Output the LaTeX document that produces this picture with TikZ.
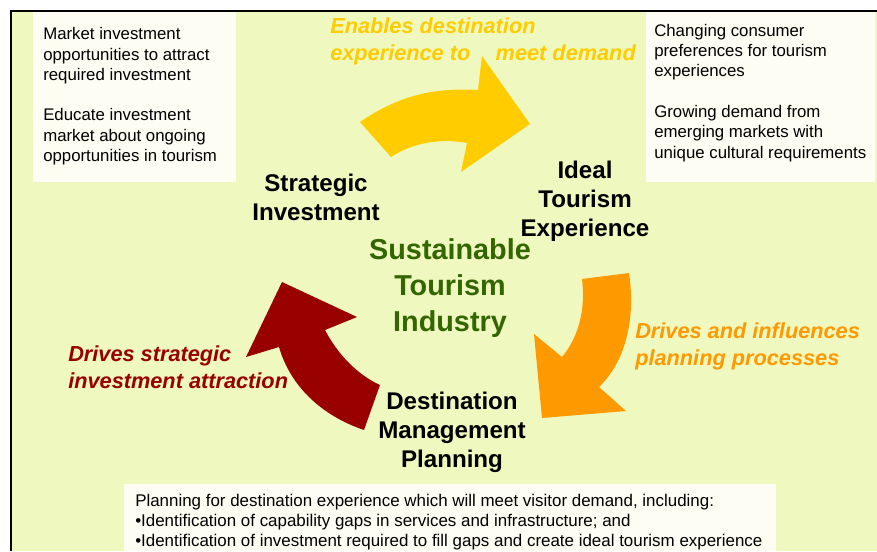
\documentclass[tikz,border=0pt]{standalone}
\usepackage{fontspec}
\setmainfont{Liberation Sans}
\usetikzlibrary{positioning}
\definecolor{bgcol}{RGB}{239,248,190}
\definecolor{notecol}{RGB}{253,253,243}
\definecolor{sunyellow}{RGB}{255,204,0}
\definecolor{deeporange}{RGB}{255,153,0}
\definecolor{darkred}{RGB}{153,0,0}
\definecolor{leafgreen}{RGB}{51,102,0}

\begin{document}
\begin{tikzpicture}[
  x=0.75pt, y=-0.75pt,
  stage/.style={align=center, anchor=base, inner sep=0pt, font=\fontsize{18.1}{21.75}\selectfont\bfseries},
  hub/.style={align=center, anchor=base, inner sep=0pt, text=leafgreen, font=\fontsize{21.6}{27}\selectfont\bfseries},
  flow/.style={align=left, anchor=base west, inner sep=0pt, font=\fontsize{16.3}{20.25}\selectfont\bfseries\itshape},
  notetext/.style={align=left, anchor=base west, inner sep=0pt, font=\fontsize{12.6}{15.2}\selectfont},
  notebox/.style={fill=notecol, draw=none}
]

\useasboundingbox (0,0) rectangle (877,551);
\fill[white] (0,0) rectangle (877,551);
\fill[bgcol] (11,11) rectangle (877,551);
\draw[line width=1.5pt] (11,551) -- (11,11) -- (877,11);

\fill[notebox] (33,12) rectangle (236,182);
\fill[notebox] (646,12) rectangle (875,182);
\fill[notebox] (124,484) rectangle (776,551);

\node[notetext] (investnote) at (43,161.5) {Market investment\\opportunities to attract\\required investment\\[15.2pt]Educate investment\\market about ongoing\\opportunities in tourism};
\node[notetext] (demandnote) at (654,158) {Changing consumer\\preferences for tourism\\experiences\\[15.2pt]Growing demand from\\emerging markets with\\unique cultural requirements};
\node[notetext, font=\fontsize{12.7}{15}\selectfont] (plannote) at (135,546) {Planning for destination experience which will meet visitor demand, including:\\\textbullet Identification of capability gaps in services and infrastructure; and\\\textbullet Identification of investment required to fill gaps and create ideal tourism experience};

\fill[sunyellow] (360,122) .. controls (395,98) and (430,87) .. (478,90) -- (482,56) -- (530,124) -- (461,172) -- (467,143) .. controls (440,138) and (412,143) .. (391,157) -- cycle;
\fill[deeporange] (582,279) -- (629,273) .. controls (636,320) and (625,362) .. (599,387) -- (626,411) -- (542,418) -- (534,334) -- (562,357) .. controls (578,338) and (586,310) .. (582,279) -- cycle;
\fill[darkred] (364,430) .. controls (320,415) and (290,385) .. (279,347) -- (246,357) -- (282,282) -- (357,317) -- (325,330) .. controls (338,355) and (358,375) .. (380,385) -- cycle;

\node[stage] (ideal) at (585,236) {Ideal\\Tourism\\Experience};
\node[stage] (strategic) at (316,220) {Strategic\\Investment};
\node[stage] (destplan) at (452,467) {Destination\\Management\\Planning};
\node[hub] (industry) at (450,331) {Sustainable\\Tourism\\Industry};

\node[flow, text=sunyellow] (enableslbl) at (330,60) {Enables destination\\experience to\hspace{19pt}meet demand};
\node[flow, text=deeporange] (influencelbl) at (635,365) {Drives and influences\\planning processes};
\node[flow, text=darkred] (attractlbl) at (68,388) {Drives strategic\\investment attraction};

\end{tikzpicture}
\end{document}
